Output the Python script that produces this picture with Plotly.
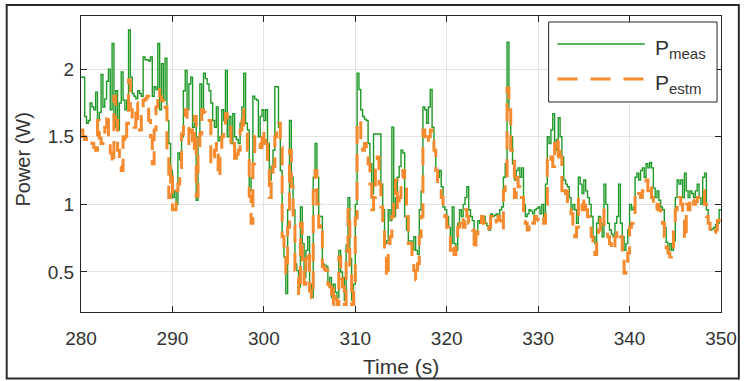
import plotly.graph_objects as go

# ---------------- data ----------------
t_start = 280.0
t_step = 0.2  # sampling step (s)

p_meas = [
    # 280 - 289.8
    1.94, 1.94, 1.65, 1.60, 1.62, 1.75, 1.72, 1.70, 1.83, 1.62,
    1.68, 1.96, 1.72, 1.78, 1.91, 2.00, 1.70, 2.19, 1.57, 1.84,
    1.55, 1.75, 1.98, 1.77, 1.70, 1.77, 2.29, 1.94, 1.82, 1.80,
    1.78, 1.84, 1.82, 1.80, 2.09, 2.07, 2.07, 2.06, 2.09, 1.80,
    1.87, 1.85, 2.19, 1.70, 2.04, 1.77, 2.08, 1.62, 1.45, 1.25,
    # 290 - 299.8
    1.05, 1.10, 1.00, 1.38, 1.33, 1.50, 1.84, 1.99, 1.70, 1.89,
    1.94, 1.57, 1.60, 1.03, 1.50, 1.89, 1.70, 1.97, 1.93, 1.89,
    1.84, 1.75, 1.62, 1.57, 1.72, 1.47, 1.50, 1.70, 1.62, 1.99,
    1.50, 1.65, 1.45, 1.67, 1.50, 1.48, 1.45, 1.60, 1.72, 1.97,
    1.60, 1.55, 1.10, 1.20, 1.80, 1.78, 1.77, 1.50, 1.65, 1.70,
    # 300 - 309.8
    1.62, 1.70, 1.45, 1.18, 1.28, 1.40, 1.87, 1.87, 1.57, 1.25,
    0.76, 0.61, 0.34, 0.96, 1.62, 1.20, 0.96, 0.56, 0.51, 0.39,
    0.98, 0.71, 0.46, 0.66, 0.76, 0.41, 0.31, 1.20, 1.45, 1.20,
    0.91, 0.91, 0.56, 0.55, 0.54, 0.41, 0.46, 0.31, 0.41, 0.35,
    0.31, 0.66, 0.50, 0.46, 0.29, 0.70, 1.05, 0.60, 0.29, 0.41,
    # 310 - 319.8
    1.00, 1.97, 1.85, 1.70, 1.65, 1.63, 1.62, 1.45, 1.30, 1.08,
    1.52, 1.52, 1.52, 1.52, 1.15, 0.96, 0.71, 0.73, 0.96, 0.88,
    1.57, 0.91, 1.05, 1.20, 1.28, 1.40, 1.38, 0.91, 0.81, 0.73,
    0.73, 0.66, 0.76, 0.66, 0.63, 0.96, 1.10, 1.72, 1.70, 1.60,
    1.72, 1.85, 1.57, 1.40, 1.25, 1.20, 1.25, 1.13, 0.98, 0.96,
    # 320 - 329.8
    0.91, 0.83, 0.71, 0.98, 0.71, 0.66, 0.86, 0.96, 0.91, 1.00,
    1.05, 1.13, 0.96, 0.91, 0.88, 0.76, 0.80, 0.88, 0.86, 0.88,
    0.91, 0.86, 0.84, 0.81, 0.93, 0.91, 0.92, 0.93, 0.91, 0.96,
    0.98, 1.20, 1.30, 2.20, 1.70, 1.50, 1.30, 1.18, 1.25, 1.27,
    1.20, 1.27, 1.00, 0.91, 0.93, 0.96, 0.95, 0.93, 0.96, 0.97,
    # 330 - 339.8
    0.98, 0.93, 1.00, 0.91, 1.15, 1.50, 1.45, 1.55, 1.67, 1.40,
    1.48, 1.64, 1.50, 1.35, 1.18, 1.15, 1.13, 1.05, 0.96, 1.00,
    0.96, 0.86, 1.20, 1.15, 1.08, 1.18, 1.10, 1.05, 1.00, 0.91,
    0.76, 0.71, 0.86, 0.91, 0.86, 0.76, 1.15, 1.00, 0.86, 0.81,
    0.78, 0.76, 0.86, 0.91, 1.15, 0.86, 0.76, 0.66, 0.71, 0.81,
    # 340 - 350
    1.00, 0.96, 0.98, 1.20, 1.23, 1.18, 1.25, 1.27, 1.20, 1.30,
    1.27, 1.31, 1.27, 1.12, 1.05, 1.10, 1.03, 0.98, 0.96, 0.83,
    0.72, 0.66, 0.71, 0.66, 0.73, 1.05, 1.18, 1.15, 1.18, 1.05,
    1.23, 1.10, 1.05, 1.10, 1.08, 1.05, 1.10, 1.15, 1.05, 1.00,
    1.20, 1.23, 0.96, 0.86, 0.81, 0.82, 0.83, 0.85, 0.86, 0.96,
    0.96,
]

p_estm = [
    # 280 - 289.8
    1.55, 1.50, 1.48, 1.50, 1.50, 1.47, 1.45, 1.42, 1.40, 1.62,
    1.49, 1.45, 1.47, 1.57, 1.67, 1.47, 1.38, 1.30, 1.80, 1.62,
    1.40, 1.28, 1.25, 1.50, 1.45, 1.60, 1.92, 1.70, 1.62, 1.57,
    1.75, 1.60, 1.55, 1.65, 1.77, 1.78, 1.80, 1.62, 1.50, 1.30,
    1.55, 1.72, 1.85, 1.80, 1.77, 1.70, 1.72, 1.40, 1.05, 1.28,
    # 290 - 299.8
    0.96, 0.96, 1.10, 1.15, 1.22, 1.52, 1.60, 1.70, 1.60, 1.45,
    1.55, 1.40, 1.65, 1.06, 1.40, 1.52, 1.70, 1.68, 1.65, 1.62,
    1.62, 1.30, 1.35, 1.40, 1.45, 1.20, 1.35, 1.50, 1.55, 1.67,
    1.60, 1.57, 1.42, 1.45, 1.30, 1.37, 1.40, 1.55, 1.70, 1.57,
    1.52, 1.40, 1.06, 0.86, 1.30, 1.50, 1.48, 1.45, 1.42, 1.55,
    # 300 - 309.8
    1.45, 1.50, 1.28, 1.05, 1.20, 1.28, 1.50, 1.55, 1.60, 1.42,
    0.76, 0.66, 0.49, 0.83, 1.40, 1.13, 0.86, 0.51, 0.46, 0.34,
    0.86, 0.59, 0.41, 0.60, 0.66, 0.36, 0.31, 1.10, 1.25, 1.00,
    0.83, 0.86, 0.54, 0.52, 0.51, 0.41, 0.39, 0.26, 0.39, 0.30,
    0.26, 0.61, 0.45, 0.39, 0.26, 0.65, 0.96, 0.55, 0.26, 0.36,
    # 310 - 319.8
    0.90, 1.60, 1.62, 1.45, 1.40, 1.45, 1.38, 1.30, 1.15, 0.96,
    1.05, 1.32, 1.35, 1.15, 0.98, 0.83, 0.66, 0.46, 0.71, 0.76,
    0.91, 1.00, 1.18, 0.96, 1.05, 1.20, 1.25, 1.15, 0.91, 0.71,
    0.71, 0.60, 0.51, 0.44, 0.56, 0.76, 0.91, 1.55, 1.50, 1.45,
    1.50, 1.55, 1.47, 1.40, 1.25, 1.15, 1.10, 1.05, 0.96, 0.91,
    # 320 - 329.8
    0.83, 0.78, 0.66, 0.71, 0.63, 0.71, 0.83, 0.86, 0.91, 0.83,
    0.96, 0.91, 0.86, 0.86, 0.81, 0.66, 0.78, 0.81, 0.83, 0.91,
    0.86, 0.81, 0.82, 0.83, 0.91, 0.86, 0.87, 0.88, 0.91, 0.88,
    0.81, 1.10, 1.18, 1.86, 1.70, 1.40, 1.37, 1.05, 1.20, 1.13,
    1.05, 1.05, 0.91, 0.86, 0.81, 0.88, 0.87, 0.86, 0.91, 0.89,
    # 330 - 339.8
    0.88, 0.88, 0.91, 0.86, 1.00, 1.33, 1.30, 1.35, 1.28, 1.45,
    1.35, 1.47, 1.35, 1.10, 1.05, 1.10, 1.00, 0.96, 0.93, 0.81,
    0.76, 0.83, 1.05, 1.00, 0.96, 1.05, 0.96, 0.91, 0.86, 0.76,
    0.66, 0.63, 0.76, 0.81, 0.91, 0.96, 0.83, 0.81, 0.76, 0.71,
    0.68, 0.66, 0.76, 0.81, 0.78, 0.76, 0.65, 0.49, 0.54, 0.64,
    # 340 - 350
    0.83, 0.86, 0.91, 1.05, 1.10, 1.08, 1.05, 1.10, 1.10, 1.18,
    1.10, 1.15, 1.05, 0.98, 0.96, 1.00, 0.96, 0.91, 0.86, 0.76,
    0.68, 0.64, 0.61, 0.66, 0.81, 0.96, 1.00, 1.05, 1.00, 0.91,
    0.74, 1.00, 0.96, 1.05, 1.03, 1.00, 1.02, 1.05, 1.05, 1.05,
    1.10, 1.00, 0.91, 0.86, 0.78, 0.78, 0.79, 0.81, 0.88, 0.91,
    0.91,
]

time_s = [round(t_start + t_step * i, 1) for i in range(len(p_meas))]

x_ticks = [280, 290, 300, 310, 320, 330, 340, 350]
y_ticks = [0.5, 1, 1.5, 2]
y_tick_text = ["0.5", "1", "1.5", "2"]

# ---------------- styling ----------------
W, H = 749, 381
ML, MR, MT, MB = 81, 22, 16, 69
PW, PH = W - ML - MR, H - MT - MB
GREEN = "#1f9a28"
ORANGE = "#f58a2e"
DARK = "#262626"
TXT = "#333333"
FONT = "Liberation Sans, Arial, Helvetica, sans-serif"


def px(x):
    return (x - ML) / PW


def py(y):
    return (H - MB - y) / PH


fig = go.Figure()
fig.add_trace(go.Scatter(x=time_s, y=p_meas, mode="lines", line_shape="hv",
                         line=dict(color=GREEN, width=1.4), showlegend=False))
fig.add_trace(go.Scatter(x=time_s, y=p_estm, mode="lines", line_shape="hv",
                         line=dict(color=ORANGE, width=3, dash="18px,10px"),
                         showlegend=False))

axis_common = dict(showline=True, linecolor=DARK, linewidth=1, mirror="ticks",
                   ticks="inside", ticklen=6, tickcolor=DARK, tickwidth=1,
                   showgrid=True, gridcolor="#e4e4e4", gridwidth=1, zeroline=False,
                   tickfont=dict(family=FONT, size=19, color=TXT))

fig.update_layout(
    width=W, height=H,
    margin=dict(l=ML, r=MR, t=MT, b=MB),
    paper_bgcolor="white", plot_bgcolor="white",
    showlegend=False,
    xaxis=dict(range=[280, 350], tickvals=x_ticks, ticklabelstandoff=9, **axis_common),
    yaxis=dict(range=[0.204, 2.393], tickvals=y_ticks, ticktext=y_tick_text,
               ticklabelstandoff=2, **axis_common),
)

shapes = [
    # outer figure frame
    dict(type="rect", xref="paper", yref="paper", x0=px(6), x1=px(745), y0=py(378.5), y1=py(5),
         line=dict(color="#2a2a2a", width=2), fillcolor="rgba(0,0,0,0)", layer="above"),
    # legend box
    dict(type="rect", xref="paper", yref="paper", x0=px(553), x1=px(723), y0=py(102), y1=py(22),
         line=dict(color=DARK, width=1), fillcolor="white", layer="above"),
    dict(type="line", xref="paper", yref="paper", x0=px(562), x1=px(650), y0=py(44), y1=py(44),
         line=dict(color=GREEN, width=1.4), layer="above"),
    dict(type="line", xref="paper", yref="paper", x0=px(562), x1=px(650), y0=py(79), y1=py(79),
         line=dict(color=ORANGE, width=3, dash="20px,13px"), layer="above"),
]

sub_style = "font-size:15px"
annotations = [
    dict(text=f"P<sub><span style='{sub_style}'>meas</span></sub>", xref="paper", yref="paper",
         x=px(658), y=py(49), xanchor="left", yanchor="middle", showarrow=False,
         font=dict(family=FONT, size=21, color=TXT)),
    dict(text=f"P<sub><span style='{sub_style}'>estm</span></sub>", xref="paper", yref="paper",
         x=px(658), y=py(84), xanchor="left", yanchor="middle", showarrow=False,
         font=dict(family=FONT, size=21, color=TXT)),
    dict(text="Time (s)", xref="paper", yref="paper", x=px(404), y=py(366),
         xanchor="center", yanchor="middle", showarrow=False,
         font=dict(family=FONT, size=21, color=TXT)),
    dict(text="Power (W)", xref="paper", yref="paper", x=px(22), y=py(160),
         xanchor="center", yanchor="middle", textangle=-90, showarrow=False,
         font=dict(family=FONT, size=20, color=TXT)),
]

fig.update_layout(shapes=shapes, annotations=annotations)
fig.write_html("out.html")
